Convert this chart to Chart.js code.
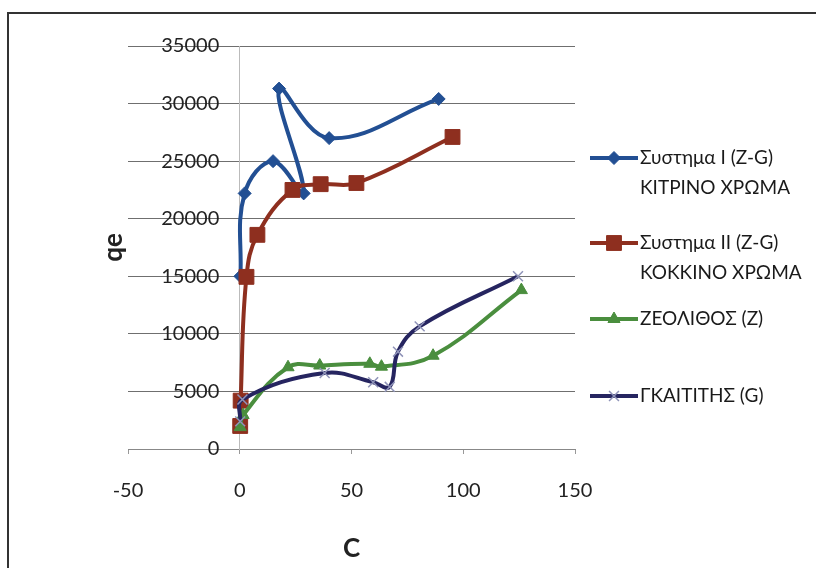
<!DOCTYPE html>
<html>
<head>
<meta charset="utf-8">
<script src="https://cdn.jsdelivr.net/npm/chart.js@4"></script>
<style>
  html, body { margin: 0; padding: 0; background: #fff; }
  #wrap { width: 816px; height: 568px; }
</style>
</head>
<body>
<div id="wrap"><canvas id="chart-qe" width="816" height="568"></canvas></div>
<script>
// values
var seriesNames = [
    ["Συστημα I (Z-G)", "ΚΙΤΡΙΝΟ ΧΡΩΜΑ"],
    ["Συστημα II (Z-G)", "ΚΟΚΚΙΝΟ ΧΡΩΜΑ"],
    ["ΖΕΟΛΙΘΟΣ (Z)"],
    ["ΓΚΑΙΤΙΤΗΣ (G)"]
];

var sys1C  = [0.3, 2.2, 14.9, 28.6, 17.6, 40, 89];
var sys1Qe = [15000, 22200, 25000, 22200, 31300, 27000, 30400];

var sys2C  = [0.2, 0.4, 3, 7.9, 23.6, 36.2, 52.2, 95.2];
var sys2Qe = [2000, 4200, 14950, 18600, 22500, 23000, 23100, 27100];

var zeoC  = [0.2, 1.5, 21.6, 35.8, 58.2, 63.4, 86.5, 126];
var zeoQe = [1900, 2950, 7100, 7250, 7400, 7150, 8100, 13800];

var gkaC  = [0.2, 1.2, 38, 59.7, 67.1, 70.8, 80.5, 124.5];
var gkaQe = [2400, 4300, 6600, 5800, 5400, 8450, 10650, 15000];

var xTicks = [-50, 0, 50, 100, 150];
var yTicks = [0, 5000, 10000, 15000, 20000, 25000, 30000, 35000];

function pts(xs, ys) {
    return xs.map(function (x, i) { return { x: x, y: ys[i] }; });
}

var FONT = "Lato, 'Open Sans', sans-serif";

var frame = {
    id: 'frame',
    beforeDraw(chart) {
        var c = chart.ctx;
        c.save();
        c.fillStyle = '#fff';
        c.fillRect(0, 0, chart.width, chart.height);
        c.strokeStyle = '#333';
        c.lineWidth = 2;
        c.beginPath();
        c.moveTo(7, 13);
        c.lineTo(chart.width, 13);
        c.moveTo(8, 12);
        c.lineTo(8, chart.height);
        c.stroke();
        c.restore();
    }
};

var sideLegend = {
    id: 'sideLegend',
    afterDraw(chart) {
        var c = chart.ctx;
        var rows = [158, 243, 319, 396];
        c.save();
        chart.data.datasets.forEach(function (ds, i) {
            var y = rows[i];
            c.strokeStyle = ds.borderColor;
            c.lineWidth = ds.borderWidth;
            c.beginPath();
            c.moveTo(590, y);
            c.lineTo(638, y);
            c.stroke();
            c.fillStyle = ds.pointBackgroundColor;
            c.strokeStyle = ds.pointBorderColor;
            c.lineWidth = ds.pointBorderWidth;
            Chart.helpers.drawPoint(c, {
                pointStyle: ds.pointStyle,
                radius: ds.pointRadius,
                rotation: 0,
                borderWidth: ds.pointBorderWidth
            }, 614, y);
            c.fillStyle = '#1a1a1a';
            c.font = '19px ' + FONT;
            c.textAlign = 'left';
            c.textBaseline = 'middle';
            seriesNames[i].forEach(function (t, k) {
                c.fillText(t, 640, y + k * 30);
            });
        });
        c.restore();
    }
};

var ctx = document.getElementById("chart-qe").getContext("2d");

new Chart(ctx, {
    type: "scatter",
    plugins: [frame, sideLegend],
    data: {
        datasets: [{
                label: seriesNames[0].join(' '),
                data: pts(sys1C, sys1Qe),
                showLine: true,
                tension: 0.4,
                borderColor: "#224f93",
                borderWidth: 4,
                pointStyle: 'rectRot',
                pointRadius: 6.5,
                pointBackgroundColor: "#224f93",
                pointBorderColor: "#224f93",
                pointBorderWidth: 1,
                order: 3
            },
            {
                label: seriesNames[1].join(' '),
                data: pts(sys2C, sys2Qe),
                showLine: true,
                tension: 0.4,
                borderColor: "#8e2f1f",
                borderWidth: 4,
                pointStyle: 'rect',
                pointRadius: 10.5,
                pointBackgroundColor: "#8e2f1f",
                pointBorderColor: "#8e2f1f",
                pointBorderWidth: 1,
                order: 2
            },
            {
                label: seriesNames[2][0],
                data: pts(zeoC, zeoQe),
                showLine: true,
                tension: 0.4,
                borderColor: "#4a8e3e",
                borderWidth: 4,
                pointStyle: 'triangle',
                pointRadius: 7,
                pointBackgroundColor: "#4a8e3e",
                pointBorderColor: "#4a8e3e",
                pointBorderWidth: 1,
                order: 1
            },
            {
                label: seriesNames[3][0],
                data: pts(gkaC, gkaQe),
                showLine: true,
                tension: 0.4,
                borderColor: "#262560",
                borderWidth: 4,
                pointStyle: 'crossRot',
                pointRadius: 7,
                pointBackgroundColor: "#8f93b8",
                pointBorderColor: "#8f93b8",
                pointBorderWidth: 1.5,
                order: 0
            }
        ]
    },
    options: {
        responsive: false,
        animation: false,
        layout: {
            padding: { left: 98, right: 241, top: 46, bottom: 0 }
        },
        plugins: {
            legend: { display: false },
            tooltip: { enabled: false }
        },
        scales: {
            x: {
                type: 'linear',
                position: 'bottom',
                min: -50,
                max: 150,
                afterBuildTicks(scale) {
                    scale.ticks = xTicks.map(function (v) { return { value: v }; });
                },
                afterFit(scale) { scale.height = 119; },
                grid: {
                    display: true,
                    drawOnChartArea: false,
                    drawTicks: true,
                    tickLength: 5,
                    color: '#999'
                },
                border: { display: true, color: '#888', width: 1 },
                ticks: {
                    padding: 25,
                    color: '#222',
                    font: { size: 20, family: FONT },
                    callback: function (v) { return String(v); }
                },
                title: {
                    display: true,
                    text: 'C',
                    color: '#222',
                    padding: { top: 0, bottom: 4 },
                    font: { size: 26, weight: 'bold', family: FONT }
                }
            },
            y: {
                type: 'linear',
                position: { x: 0 },
                min: 0,
                max: 35000,
                afterBuildTicks(scale) {
                    scale.ticks = yTicks.map(function (v) { return { value: v }; });
                },
                grid: {
                    color: '#6f6f6f',
                    lineWidth: 1,
                    drawTicks: false
                },
                border: { display: true, color: '#bbb', width: 1 },
                ticks: {
                    color: '#222',
                    font: { size: 20, family: FONT },
                    // the labels sit right against the crossing axis; trailing spaces keep the gap
                    callback: function (v) { return String(v) + '    '; }
                }
            },
            yTitle: {
                type: 'linear',
                position: 'left',
                min: 0,
                max: 35000,
                afterFit(scale) { scale.width = 30; },
                grid: { display: false },
                border: { display: false },
                ticks: { display: false },
                title: {
                    display: true,
                    text: 'qe',
                    color: '#222',
                    padding: { top: 0, bottom: 0 },
                    font: { size: 26, weight: 'bold', family: FONT }
                }
            }
        }
    }
});
</script>
</body>
</html>
